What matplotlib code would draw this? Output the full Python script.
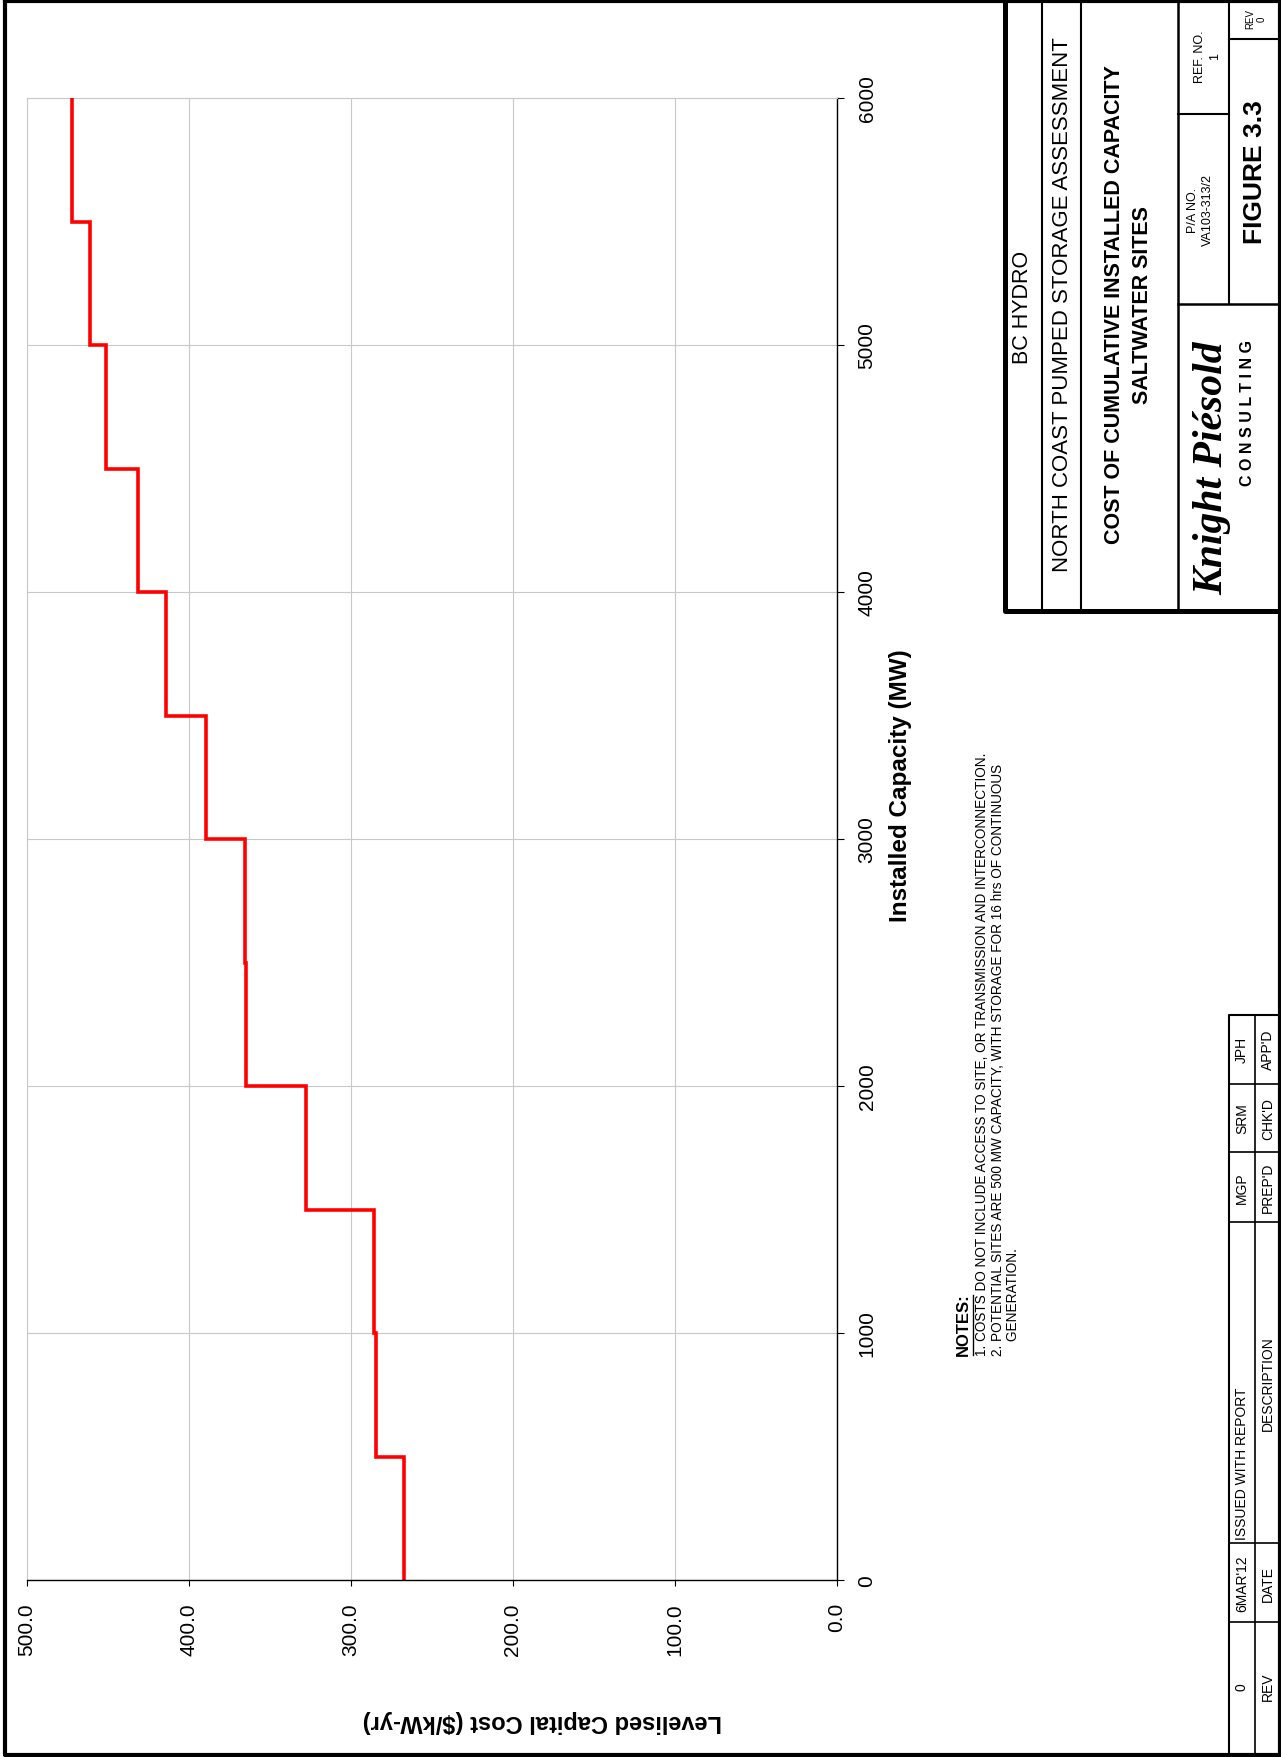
import matplotlib
matplotlib.use('Agg')
import matplotlib.pyplot as plt
from matplotlib import font_manager

plt.rcParams['font.family'] = ['Liberation Sans', 'DejaVu Sans']
installed = {f.name for f in font_manager.fontManager.ttflist}
HAS_NARROW = 'Liberation Sans Narrow' in installed
NARROW = 'Liberation Sans Narrow' if HAS_NARROW else 'Liberation Sans'

# cumulative installed capacity (MW) - each potential site adds 500 MW
capacity_edges = [0, 500, 1000, 1500, 2000, 2500, 3000, 3500, 4000, 4500, 5000, 5500, 6000]
# levelised capital cost of each added site ($/kW-yr)
site_cost = [267.1, 284.6, 285.6, 327.6, 364.6, 365.3, 389.3, 414.0, 431.1, 451.0, 460.9, 472.0]

cost_ticks = [0, 100, 200, 300, 400, 500]
capacity_ticks = [0, 1000, 2000, 3000, 4000, 5000, 6000]

notes = [
    "1. COSTS DO NOT INCLUDE ACCESS TO SITE, OR TRANSMISSION AND INTERCONNECTION.",
    "2. POTENTIAL SITES ARE 500 MW CAPACITY, WITH STORAGE FOR 16 hrs OF CONTINUOUS",
    "    GENERATION.",
]
rev_fields = ["REV", "DATE", "DESCRIPTION", "PREP'D", "CHK'D", "APP'D"]
rev_values = ["0", "6MAR'12", "ISSUED WITH REPORT", "MGP", "SRM", "JPH"]

W, H = 1281, 1758
fig = plt.figure(figsize=(W / 100, H / 100), dpi=100)

# page furniture drawn in pixel coordinates (origin top-left)
page = fig.add_axes([0, 0, 1, 1], zorder=0)
page.set_xlim(0, W)
page.set_ylim(H, 0)
page.axis('off')


def seg(x, y, lw=1.5):
    page.plot(x, y, color='black', lw=lw, solid_capstyle='projecting', clip_on=False)


def label(x, y, s, size, **kw):
    kw.setdefault('ha', 'center')
    kw.setdefault('va', 'center')
    page.text(x, y, s, fontsize=size, rotation=90, **kw)


# sheet border
seg([5.3, 1279.5, 1279.5, 5.3, 5.3], [1.5, 1.5, 1756, 1756, 1.5], lw=3)

# title block
seg([1004.5, 1004.5, 1281], [0, 612, 612], lw=3.6)
seg([1041.7, 1041.7], [0, 612], lw=1.5)
seg([1080.7, 1080.7], [0, 612], lw=1.5)
seg([1178.3, 1178.3], [0, 612], lw=1.8)
seg([1178.3, 1281], [304.5, 304.5], lw=1.8)
seg([1229.3, 1229.3], [0, 304.5], lw=1.5)
seg([1178.3, 1229.3], [114.7, 114.7], lw=1.5)
seg([1229.3, 1281], [39.5, 39.5], lw=1.5)

label(1023, 307, "BC HYDRO", 15.5)
label(1062, 305, "NORTH COAST PUMPED STORAGE ASSESSMENT", 16)
label(1115, 305, "COST OF CUMULATIVE INSTALLED CAPACITY", 15.5, fontweight='bold')
label(1142, 305, "SALTWATER SITES", 15.5, fontweight='bold')
label(1193, 210, "P/A NO.", 9, family=NARROW)
label(1208, 210, "VA103-313/2", 9, family=NARROW)
label(1200, 57, "REF. NO.", 9, family=NARROW)
label(1215, 57, "1", 9, family=NARROW)
label(1250, 19, "REV", 7, family=NARROW)
label(1262, 19, "0", 7, family=NARROW)
label(1255, 172, "FIGURE 3.3", 19, fontweight='bold')
label(1212, 468, "Knight Piésold", 30, family=['Liberation Serif', 'DejaVu Serif'],
      fontweight='bold', style='italic')
label(1248, 413, "C O N S U L T I N G", 11.5, fontweight='bold')

# revision block
rev_edges = [1758, 1623.5, 1543.7, 1223, 1152.7, 1084.6, 1016]
seg([1229.3, 1229.3, 1281], [1758, 1016, 1016], lw=1.5)
seg([1255, 1255], [1016, 1758], lw=1.2)
for yy in rev_edges[1:-1]:
    seg([1229.3, 1281], [yy, yy], lw=1.2)
for i, (val, field) in enumerate(zip(rev_values, rev_fields)):
    yc = (rev_edges[i] + rev_edges[i + 1]) / 2
    if i == 0:
        yc -= 4
    if field == "DESCRIPTION":
        label(1242, rev_edges[i] - 4, val, 10, family=NARROW, va='bottom')
    else:
        label(1242, yc, val, 10, family=NARROW)
    label(1268, yc, field, 10, family=NARROW)

# notes
note_size = 11.5 if HAS_NARROW else 9.8
label(963, 1356, "NOTES:", 12, fontweight='bold', va='bottom')
seg([972.5, 972.5], [1356, 1296], lw=1.0)
for k, line in enumerate(notes):
    label(982 + 15.5 * k, 1356, line, note_size, family=NARROW, va='bottom')

# axis titles
label(900, 786, "Installed Capacity (MW)", 17.5, fontweight='bold')
page.text(542, 1722, "Levelised Capital Cost ($/kW-yr)", fontsize=17, fontweight='bold',
          rotation=180, ha='center', va='center')

# chart: cost runs right-to-left, capacity bottom-to-top
ax = fig.add_axes([26.7 / W, 1 - 1581 / H, (836.7 - 26.7) / W, (1581 - 99) / H], zorder=1)
ax.stairs(site_cost, capacity_edges, orientation='horizontal', baseline=None,
          color='#ff0000', lw=2.6, zorder=3)
ax.set_xlim(500, 0)
ax.set_ylim(0, 6000)
ax.set_xticks(cost_ticks)
ax.set_xticklabels([f"{c:.1f}" for c in cost_ticks], rotation=90, fontsize=15)
ax.set_yticks(capacity_ticks)
ax.set_yticklabels([str(c) for c in capacity_ticks], rotation=90, fontsize=15, va='center')
ax.yaxis.tick_right()
ax.tick_params(axis='x', direction='out', length=4, width=0.8, pad=12)
ax.tick_params(axis='y', direction='out', length=5, width=0.8, pad=10)
ax.grid(True, color='#c8c8c8', lw=0.8)
ax.set_axisbelow(True)
for side in ('left', 'top'):
    ax.spines[side].set_color('#c8c8c8')
    ax.spines[side].set_linewidth(0.8)
for side in ('right', 'bottom'):
    ax.spines[side].set_linewidth(1.0)
ax.spines['bottom'].set_zorder(4)

fig.savefig('out.png', dpi=100)
